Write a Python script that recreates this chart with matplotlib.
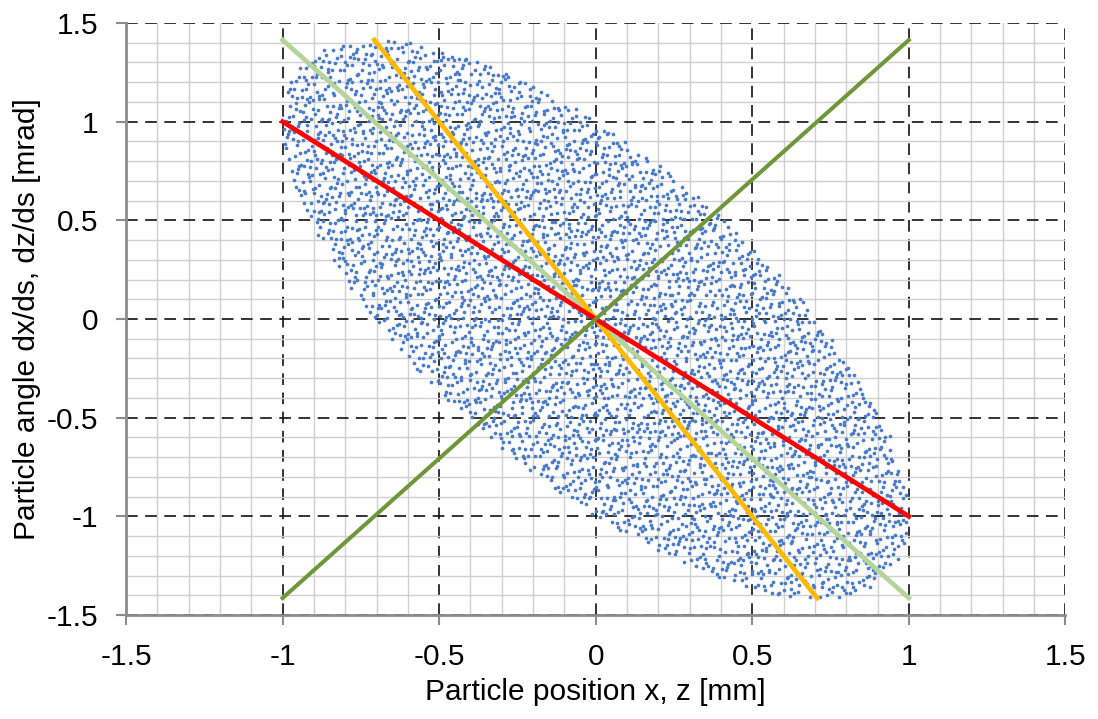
import numpy as np
import matplotlib
matplotlib.use("Agg")
import matplotlib.pyplot as plt
from matplotlib.ticker import MultipleLocator, FormatStrFormatter

plt.rcParams['font.family'] = ['Liberation Sans', 'DejaVu Sans']
plt.rcParams['axes.unicode_minus'] = False

# Twiss parameters of the beam ellipse
alpha = 1.0
beta = 1.0
eps = 1.0
n_samples = 5800

# line end points (x, x')
green_x = [-1.0, 1.0]
green_y = [-1.414, 1.414]
lightgreen_x = [-1.0, 1.0]
lightgreen_y = [1.414, -1.414]
red_x = [-1.0, 1.0]
red_y = [1.0, -1.0]
orange_x = [-0.707, 0.707]
orange_y = [1.414, -1.414]

ticks = [-1.5, -1.0, -0.5, 0.0, 0.5, 1.0, 1.5]


def halton(n, base):
    # deterministic low-discrepancy sequence used to fill the ellipse
    out = np.zeros(n)
    for i in range(n):
        f, r, k = 1.0, 0.0, i + 1
        while k > 0:
            f /= base
            r += f * (k % base)
            k //= base
        out[i] = r
    return out


# fill the unit disk (square, keep what is inside), then map onto the ellipse
u = 2 * halton(n_samples, 2) - 1
v = 2 * halton(n_samples, 3) - 1
inside = u**2 + v**2 <= 1
u, v = u[inside], v[inside]
px = np.sqrt(eps * beta) * u
py = np.sqrt(eps / beta) * (v - alpha * u)

fig = plt.figure(figsize=(10.98, 7.19), dpi=100)
ax = fig.add_axes([0.1148, 0.1446, 0.8555, 0.8234])

ax.scatter(px, py, s=7, color='#4A7BC8', linewidths=0, zorder=3)
ax.plot(lightgreen_x, lightgreen_y, color='#B5D49A', lw=3.4, zorder=4)
ax.plot(orange_x, orange_y, color='#FFB900', lw=3.4, zorder=5)
ax.plot(red_x, red_y, color='#FF0000', lw=3.4, zorder=6)
ax.plot(green_x, green_y, color='#70963A', lw=2.9, zorder=7)

ax.set_xlim(-1.5, 1.5)
ax.set_ylim(-1.5, 1.5)
ax.set_xticks(ticks)
ax.set_yticks(ticks)
ax.xaxis.set_minor_locator(MultipleLocator(0.1))
ax.yaxis.set_minor_locator(MultipleLocator(0.1))
ax.xaxis.set_major_formatter(FormatStrFormatter('%g'))
ax.yaxis.set_major_formatter(FormatStrFormatter('%g'))

ax.grid(which='minor', color='#D0D0D0', lw=1.0, zorder=0)
ax.grid(which='major', color='#111111', lw=1.2, ls=(0, (7, 4.5)), zorder=1)
ax.set_axisbelow(True)

for side in ['top', 'right']:
    ax.spines[side].set_visible(False)
for side in ['left', 'bottom']:
    ax.spines[side].set_color('#8C8C8C')
    ax.spines[side].set_linewidth(2.0)
    ax.spines[side].set_zorder(8)

ax.tick_params(which='major', direction='out', length=7, width=1.5,
               color='#8C8C8C', labelsize=21.5, pad=13)
ax.tick_params(which='minor', length=0)

ax.set_xlabel('Particle position x, z [mm]', fontsize=21.5, labelpad=5)
ax.set_ylabel('Particle angle dx/ds, dz/ds [mrad]', fontsize=21.5, labelpad=4)

fig.savefig('out.png', dpi=100)
